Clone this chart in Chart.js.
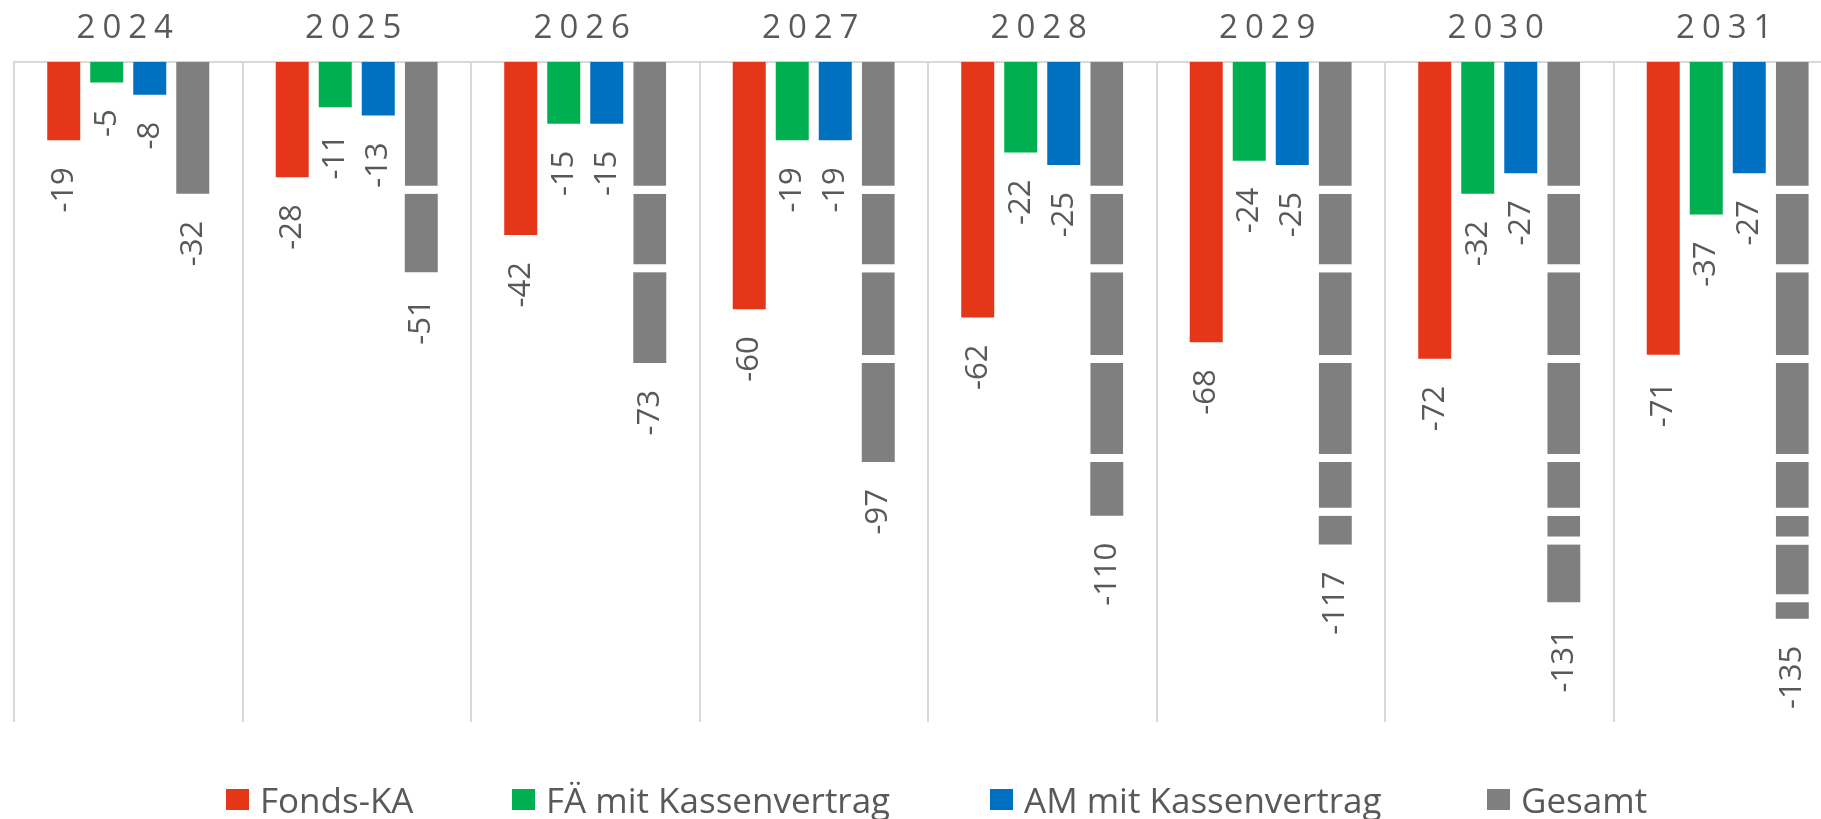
<!DOCTYPE html>
<html lang="de">
<head>
  <meta charset="UTF-8" />
  <title>Gesamt je Jahr</title>
  <script src="https://cdn.jsdelivr.net/npm/chart.js"></script>
  <style>
    html, body { margin: 0; padding: 0; background: #fff; overflow: hidden; }
    .wrap { position: relative; width: 1821px; height: 819px; overflow: hidden; }
    #chart { position: absolute; left: 0; top: -4px; }
    .legend-item {
      position: absolute; top: 782px; height: 35px; line-height: 35px;
      display: flex; align-items: center;
      font-family: "Open Sans", sans-serif; font-size: 35px; color: #595959; white-space: nowrap;
    }
    .legend-item span.box { display: inline-block; width: 23px; height: 21px; margin-right: 11px; }
  </style>
</head>
<body>
  <div class="wrap">
    <canvas id="chart" width="1860" height="819"></canvas>
    <div class="legend-item" style="left:226px"><span class="box" style="background:#E5361A"></span>Fonds-KA</div>
    <div class="legend-item" style="left:512px"><span class="box" style="background:#00B050"></span>FÄ mit Kassenvertrag</div>
    <div class="legend-item" style="left:990px"><span class="box" style="background:#0070C0"></span>AM mit Kassenvertrag</div>
    <div class="legend-item" style="left:1487px"><span class="box" style="background:#7F7F7F"></span>Gesamt</div>
  </div>

  <script>
    // Daten
    const years = ['2024', '2025', '2026', '2027', '2028', '2029', '2030', '2031'];
    const fondsKA = [-19, -28, -42, -60, -62, -68, -72, -71];
    const faKasse = [-5, -11, -15, -19, -22, -24, -32, -37];
    const amKasse = [-8, -13, -15, -19, -25, -25, -27, -27];
    const gesamt = [-32, -51, -73, -97, -110, -117, -131, -135];

    const RED = '#E5361A', GREEN = '#00B050', BLUE = '#0070C0', GRAY = '#7F7F7F';
    const TEXT = '#595959';

    // Gesamt-Balken: ein Segment pro Jahr (Zuwachs gegenüber Vorjahr)
    const segments = years.map((y, k) =>
      years.map((_, i) => (k <= i ? gesamt[k] - (k > 0 ? gesamt[k - 1] : 0) : null))
    );

    const datasets = [
      { label: 'Fonds-KA', data: fondsKA, backgroundColor: RED, stack: 'a' },
      { label: 'FÄ mit Kassenvertrag', data: faKasse, backgroundColor: GREEN, stack: 'b' },
      { label: 'AM mit Kassenvertrag', data: amKasse, backgroundColor: BLUE, stack: 'c' }
    ];
    segments.forEach((seg, k) => {
      datasets.push({
        label: 'Gesamt',
        data: seg,
        backgroundColor: GRAY,
        borderColor: '#ffffff',
        borderSkipped: false,
        borderWidth: ctx => ({ top: 0, left: 0, right: 0, bottom: ctx.dataIndex === k ? 0 : 8 }),
        stack: 'd'
      });
    });

    // Werte unter den Balken, um 90° gedreht
    const valueLabels = {
      id: 'valueLabels',
      afterDatasetsDraw(chart) {
        const ctx = chart.ctx;
        const yScale = chart.scales.y;
        ctx.save();
        ctx.font = '31px "Open Sans", sans-serif';
        ctx.fillStyle = TEXT;
        ctx.textAlign = 'right';
        ctx.textBaseline = 'middle';
        const put = (x, val) => {
          const y = yScale.getPixelForValue(val) + 27;
          ctx.save();
          ctx.translate(x, y);
          ctx.rotate(-Math.PI / 2);
          ctx.fillText(String(val), 0, 0);
          ctx.restore();
        };
        [fondsKA, faKasse, amKasse].forEach((arr, d) => {
          chart.getDatasetMeta(d).data.forEach((el, i) => put(el.x, arr[i]));
        });
        years.forEach((_, i) => {
          const el = chart.getDatasetMeta(3 + i).data[i];
          put(el.x, gesamt[i]);
        });
        ctx.restore();
      }
    };

    // Sperrschrift für die Jahreszahlen
    const spacing = {
      id: 'spacing',
      beforeDraw(chart) { chart.ctx.letterSpacing = '7px'; },
      beforeDatasetsDraw(chart) { chart.ctx.letterSpacing = '0px'; }
    };

    new Chart(document.getElementById('chart'), {
      type: 'bar',
      data: { labels: years, datasets },
      options: {
        responsive: false,
        animation: false,
        devicePixelRatio: 1,
        categoryPercentage: 0.753,
        barPercentage: 0.767,
        layout: { padding: { left: 14, right: 18, top: 0, bottom: 93 } },
        plugins: { legend: { display: false }, tooltip: { enabled: false } },
        scales: {
          x: {
            position: 'top',
            grid: { color: '#d9d9d9', lineWidth: 2, drawTicks: false },
            border: { color: '#d9d9d9', width: 2 },
            ticks: {
              color: TEXT,
              padding: 21,
              font: { family: '"Open Sans", sans-serif', size: 33, lineHeight: 0.72 }
            }
          },
          y: {
            display: false,
            stacked: true,
            min: -160,
            max: 0
          }
        }
      },
      plugins: [spacing, valueLabels]
    });
  </script>
</body>
</html>
